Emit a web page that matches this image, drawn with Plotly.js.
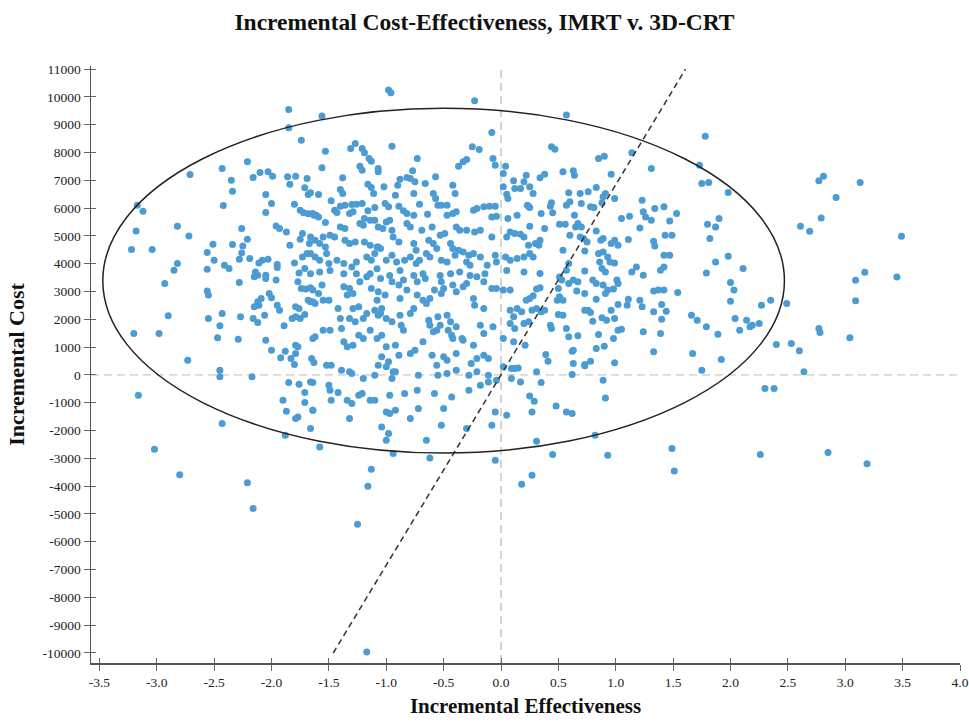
<!DOCTYPE html>
<html><head><meta charset="utf-8">
<script src="https://cdn.plot.ly/plotly-3.0.1.min.js"></script>
<style>html,body{margin:0;padding:0;background:#fff}#chart{width:969px;height:722px}</style>
</head><body><div id="chart"></div>
<script>
// Simulated (incremental effectiveness, incremental cost) pairs, grouped by region
const ptsUpperLeft = [[-1.85,9548],[-1.85,8888],[-1.74,8444],[-2.21,7664],[-2.43,7424],[-2.71,7208],[-2.16,7100],[-2.10,7280],[-2.03,7304],[-1.99,7148],[-1.86,7124],[-1.79,7148],[-1.69,7064],[-2.35,7004],[-2.34,6608],[-1.84,6860],[-1.71,6728],[-1.68,6488],[-2.05,6488],[-2.00,6164],[-2.05,5840],[-1.80,6140],[-2.42,6092],[-3.17,6104],[-3.12,5888],[-1.75,5924],[-1.72,5830],[-1.68,5800],[-1.63,5740],[-1.96,5360],[-1.93,5264],[-1.87,5144],[-2.26,5264],[-2.82,5348],[-3.18,5180],[-2.72,5000],[-2.21,4880],[-1.73,5084],[-1.75,4880],[-1.84,4664],[-1.67,4724],[-3.22,4508],[-3.04,4508],[-2.51,4700],[-2.34,4688],[-2.25,4640],[-2.26,4388],[-2.56,4400],[-2.50,4124],[-2.28,4160],[-2.19,4184],[-2.11,4028],[-2.08,4124],[-2.03,4160],[-1.95,3968],[-1.80,4028],[-1.73,4244],[-1.69,4364],[-2.82,4004],[-2.85,3764],[-2.56,3800],[-2.41,3944],[-2.37,3824],[-2.14,3704],[-2.12,3584],[-2.05,3584],[-1.95,3860],[-1.76,3668],[-1.71,3824]];
const ptsUpperMid = [[-0.98,10244],[-0.96,10148],[-0.23,9860],[-1.56,9308],[-0.08,8720],[-1.27,8324],[-1.31,8144],[-1.53,8048],[-1.21,8144],[-1.19,7988],[-0.95,8228],[-1.15,7784],[-1.13,7688],[-0.25,8204],[-0.19,8108],[-0.73,7784],[-0.07,7784],[-0.30,7748],[-0.33,7664],[-0.37,7508],[-0.05,7544],[-1.56,7448],[-1.23,7508],[-1.21,7364],[-1.07,7424],[-1.07,7304],[-0.77,7340],[0.04,7508],[0.02,7244],[-1.38,7088],[-0.88,7040],[-0.82,7100],[-0.79,7064],[-0.75,6944],[-0.57,7124],[-0.66,6884],[-1.16,6860],[-1.13,6740],[-1.11,6524],[-1.02,6764],[-0.90,6824],[-0.42,6824],[-0.40,6524],[-1.40,6668],[-1.38,6524],[-1.66,6548],[-1.59,6488],[-0.76,6524],[-0.59,6524],[-0.57,6344],[-0.92,6464],[-1.48,6260],[0.11,6980],[0.12,6704],[0.17,6704],[0.20,6944],[0.02,6764],[0.05,6500],[0.06,6344],[-0.55,6104],[-0.52,6104],[-0.47,6104],[-1.01,6164],[-0.98,6044],[-1.21,6164],[-1.26,6140],[-1.30,6128],[-1.36,6104],[-1.40,6068],[-1.10,6020],[-1.16,5900],[-0.89,6068],[-0.85,5900],[-0.71,6140],[-0.15,6044],[-0.10,6068],[-0.05,6068],[-0.24,5924],[-0.21,5984],[-0.39,5864],[-0.42,5804],[-0.47,5744],[-0.64,5780],[-0.82,5804],[-0.76,5744],[0.24,6068],[0.14,5744],[0.06,5624],[-1.64,5804],[-1.61,5744],[-1.59,5684],[-1.45,5924],[-1.43,5840],[-1.32,5804],[-1.29,5864],[-1.19,5624],[-1.14,5564],[-1.10,5564],[-1.00,5504],[-0.97,5564],[-1.53,5480],[-1.40,5324],[-1.36,5264],[-1.23,5444],[-1.20,5384],[-1.07,5324],[-1.03,5264],[-0.95,5204],[-0.82,5444],[-0.79,5324],[-0.69,5204],[-0.60,5324],[-0.53,5024],[-0.49,5084],[-0.39,5324],[-0.36,5204],[-0.30,5204],[-0.23,5144],[-0.18,5204],[-0.08,5684],[-0.04,5708],[-0.08,4964],[0.05,4964],[0.08,5144],[0.12,5084],[0.17,5060],[0.20,4964],[0.24,4664],[-1.66,4964],[-1.62,4844],[-1.58,4724],[-1.55,4964],[-1.53,4604],[-1.49,5024],[-1.45,4964],[-1.36,4844],[-1.32,4724],[-1.27,4784],[-1.19,4784],[-1.14,4664],[-1.08,4604],[-1.05,4544],[-0.94,4964],[-0.89,4784],[-0.76,4724],[-0.74,4484],[-0.63,4844],[-0.59,4724],[-0.56,4544],[-0.44,4724],[-0.42,4544],[-0.33,4424],[-0.28,4304],[-0.24,4364],[-0.05,4304],[-0.04,4064],[0.04,4244],[0.08,4124],[0.14,4184],[0.20,4244],[-1.66,4364],[-1.62,4244],[-1.58,4124],[-1.52,4364],[-1.50,4004],[-1.43,4124],[-1.37,4004],[-1.30,3884],[-1.26,4064],[-1.17,4244],[-1.13,4124],[-1.10,4364],[-1.07,4604],[-1.00,4124],[-0.95,4304],[-0.91,4064],[-0.84,4124],[-0.79,4244],[-0.74,4004],[-0.71,4124],[-0.65,4364],[-0.62,4244],[-0.52,4124],[-0.47,4064],[-0.40,4304],[-0.37,4484],[-0.30,4064],[-0.27,3944],[-0.18,4244],[-0.12,3944],[-1.66,3640],[-1.58,3700],[-1.49,3760],[-1.37,3640],[-1.26,3640],[-1.14,3640],[-1.08,3820],[-0.97,3580],[-0.88,3760],[-0.76,3580],[-0.68,3640],[-0.53,3580],[-0.44,3640],[-0.36,3700],[-0.27,3580],[-0.14,3640],[0.05,3760],[0.20,3700]];
const ptsUpperRight = [[0.57,9344],[1.78,8588],[0.44,8204],[0.47,8120],[1.14,7988],[0.85,7784],[0.90,7868],[1.31,7424],[1.73,7544],[1.75,6884],[1.81,6920],[1.98,6560],[0.54,7304],[0.63,7340],[0.64,7184],[0.38,7220],[0.34,7088],[0.22,7184],[0.96,7220],[0.25,6764],[0.28,6524],[0.83,6740],[0.59,6548],[0.69,6524],[0.76,6584],[0.91,6524],[0.89,6404],[0.99,6344],[1.23,6284],[0.23,6104],[0.25,6020],[0.44,6188],[0.43,6068],[0.60,6224],[0.57,6104],[0.70,6164],[0.78,6044],[0.81,6020],[0.88,6188],[1.24,5864],[1.26,5684],[1.34,5984],[1.42,6044],[1.53,5804],[1.12,5708],[1.05,5624],[1.31,5564],[1.47,5540],[1.21,5288],[1.80,5420],[1.87,5324],[1.90,5624],[0.35,5804],[0.45,5828],[0.64,5744],[0.25,5348],[0.38,5264],[0.51,5420],[0.56,5420],[0.65,5324],[0.67,5444],[0.70,5324],[0.60,5024],[0.69,4964],[0.72,4904],[0.83,5180],[0.75,4784],[0.30,4724],[0.34,4844],[0.33,4664],[0.54,4484],[0.73,4460],[0.87,4844],[0.89,4904],[0.96,4724],[0.99,4844],[1.02,4664],[1.11,4868],[1.33,4808],[1.34,4640],[1.43,5024],[1.49,5024],[1.42,4304],[1.47,4304],[1.82,4904],[1.98,4268],[1.87,4064],[1.79,3668],[0.85,4364],[0.89,4424],[0.93,4244],[0.95,4064],[0.99,4028],[0.86,4064],[0.88,3824],[0.91,3704],[0.25,4364],[0.28,4244],[0.59,4004],[0.57,3764],[0.73,3740],[1.14,3704],[1.18,3884],[1.24,3584],[1.39,3764],[1.42,3884],[0.34,3644],[0.51,3524]];
const ptsFarRight = [[2.81,7148],[2.77,6980],[3.13,6920],[2.92,6380],[2.79,5648],[2.61,5348],[2.69,5168],[3.49,4988],[2.11,3824],[3.17,3692],[3.45,3524],[3.09,3404],[3.09,2666],[2.49,2570],[2.35,2690],[2.27,2510],[2.14,1970],[2.19,1790],[2.17,1730],[2.25,1850],[2.08,1610],[2.77,1670],[2.78,1526],[3.04,1334],[2.40,1094],[2.53,1130],[2.60,866],[2.64,110],[2.30,-490],[2.38,-490],[2.26,-2866],[2.85,-2794],[3.19,-3190]];
const ptsLowerRight = [[2.00,3326],[2.03,3050],[2.00,2654],[2.04,2030],[1.92,554],[1.54,2966],[1.33,3014],[1.37,3050],[1.42,3050],[1.40,2534],[1.44,2294],[1.33,2270],[1.40,2006],[1.39,1490],[1.24,1550],[1.33,830],[1.66,2150],[1.71,1970],[1.79,1730],[1.89,1466],[1.67,770],[1.75,170],[1.11,2726],[1.10,2510],[1.21,2690],[1.23,2450],[1.02,2534],[0.96,2330],[0.99,2030],[1.02,1610],[1.05,1646],[0.98,1310],[0.90,1034],[0.83,950],[0.99,434],[0.85,1454],[0.78,494],[0.73,326],[0.89,-190],[0.91,-826],[0.82,-2170],[0.93,-2890],[1.49,-2650],[1.51,-3454],[0.31,-2386],[0.45,-2866],[0.27,-3610],[0.62,854],[0.63,410],[0.62,14],[0.67,1406],[0.59,1370],[0.57,1670],[0.39,734],[0.41,494],[0.31,110],[0.35,-274],[0.25,-754],[0.29,-946],[0.27,-1330],[0.48,-1114],[0.57,-1330],[0.62,-1390],[0.21,1070],[0.43,1790],[0.44,1670],[0.27,2330],[0.31,2390],[0.35,2270],[0.38,2330],[0.22,2690],[0.25,2750],[0.28,2846],[0.31,3086],[0.34,3134],[0.50,3110],[0.53,3410],[0.51,2810],[0.54,2690],[0.49,2690],[0.59,3290],[0.63,3410],[0.67,3350],[0.66,3014],[0.73,2930],[0.80,3410],[0.83,3290],[0.89,3230],[0.91,2930],[0.93,3050],[0.98,3086],[1.01,3410],[1.02,3290],[0.83,2726],[0.73,2330],[0.76,2330],[0.78,2246],[0.80,1934],[0.88,2054],[0.92,1970],[0.50,2174],[0.54,2150],[0.73,374],[0.63,890]];
const ptsLowerLeft = [[-2.93,3290],[-2.90,2126],[-3.20,1490],[-2.98,1490],[-2.73,530],[-2.45,170],[-2.45,-70],[-2.17,-70],[-3.16,-730],[-2.43,-1750],[-3.02,-2674],[-2.80,-3586],[-2.56,3014],[-2.55,2870],[-2.28,3326],[-2.55,2030],[-2.43,2210],[-2.45,1766],[-2.47,1334],[-2.29,1286],[-2.27,2090],[-2.16,2030],[-2.12,1886],[-2.06,2150],[-2.15,3530],[-2.05,3470],[-1.96,3410],[-2.12,2630],[-2.09,2750],[-2.11,2510],[-2.15,2450],[-2.02,2930],[-2.00,2774],[-1.95,2510],[-1.93,2330],[-2.05,1250],[-2.00,890],[-1.89,1766],[-1.92,614],[-1.83,590],[-1.80,374],[-1.88,854],[-1.79,770],[-1.79,1070],[-1.77,1010],[-1.82,2030],[-1.79,2090],[-1.75,2030],[-1.71,2174],[-1.79,2450],[-1.76,2390],[-1.77,3350],[-1.74,3110],[-1.70,3086],[-1.66,3134],[-1.68,2690],[-1.64,2630],[-1.64,1310],[-1.65,590],[-1.63,446],[-1.85,-274],[-1.76,-334],[-1.64,-274],[-1.71,-634],[-1.71,-994],[-1.90,-910],[-1.87,-1306],[-1.79,-1570],[-1.77,-1510],[-1.64,-1270],[-1.66,-1930],[-1.88,-2170]];
const ptsCentre = [[-1.64,3050],[-1.59,2930],[-1.55,2690],[-1.62,2570],[-1.37,3170],[-1.32,3110],[-1.29,2930],[-1.34,2870],[-1.13,3110],[-1.07,2990],[-1.01,2870],[-1.08,2690],[-1.04,2390],[-1.07,2150],[-0.95,3350],[-0.89,3230],[-0.85,3410],[-0.82,3050],[-0.88,2750],[-0.73,2870],[-0.68,2690],[-0.65,2570],[-0.62,2750],[-0.58,3050],[-0.52,2930],[-0.50,3110],[-0.42,3230],[-0.39,2990],[-0.33,3170],[-0.24,2750],[-0.23,2510],[-0.15,2390],[-0.08,3110],[-0.04,3110],[0.02,3050],[0.08,3050],[0.08,2330],[0.14,2390],[0.18,2270],[0.11,2090],[-1.66,2630],[-1.50,2690],[-1.42,2390],[-1.40,2030],[-1.39,1670],[-1.29,2390],[-1.24,2450],[-1.20,2030],[-1.17,2210],[-1.32,2030],[-1.27,1910],[-1.10,2330],[-1.05,2210],[-1.00,2030],[-0.95,1910],[-0.88,2150],[-0.87,1790],[-0.85,1610],[-0.79,2210],[-0.76,2390],[-0.63,1970],[-0.62,1790],[-0.59,1550],[-0.55,2090],[-0.53,1790],[-0.56,1610],[-0.47,2150],[-0.44,1910],[-0.46,1610],[-0.43,1430],[-0.39,1730],[-0.34,1310],[-0.24,1070],[-0.18,1790],[-0.15,1490],[-0.07,1730],[0.02,1310],[0.11,1190],[0.08,1850],[0.12,1670],[0.20,1850],[0.24,1910],[-1.62,1370],[-1.49,1610],[-1.55,1610],[-1.37,1190],[-1.34,1010],[-1.29,1070],[-1.24,1430],[-1.20,1310],[-1.14,1610],[-1.08,1310],[-1.04,1430],[-1.00,1010],[-0.92,1070],[-0.89,710],[-0.79,770],[-0.75,890],[-0.68,1190],[-0.60,710],[-0.56,350],[-0.50,650],[-0.47,530],[-0.42,1310],[-0.39,770],[-0.33,1250],[-0.26,410],[-0.21,590],[-0.15,710],[-0.11,590],[-1.52,350],[-1.48,350],[-1.39,170],[-1.32,110],[-1.30,50],[-1.07,350],[-1.04,650],[-0.98,470],[-1.00,290],[-0.92,110],[-1.66,-250],[-1.50,-370],[-1.49,-550],[-1.42,-630],[-1.48,-910],[-1.34,-910],[-1.30,-1030],[-1.24,-730],[-1.21,-670],[-1.14,-910],[-1.10,-910],[-1.20,-130],[-1.10,-10],[-0.95,-130],[-0.94,110],[-0.72,-10],[-0.55,-10],[-0.47,50],[-0.39,170],[-0.28,-10],[-0.21,110],[-0.11,-10],[-0.97,-730],[-0.84,-670],[-0.73,-550],[-0.58,-670],[-0.43,-790],[-0.28,-550],[-0.18,-370],[-0.11,-250],[-1.64,-1270],[-1.32,-1570],[-1.04,-1870],[-1.00,-1330],[-0.97,-1390],[-0.92,-1270],[-0.79,-1570],[-0.72,-1210],[-0.52,-1810],[-0.50,-1210],[-0.30,-1930],[-0.08,-1810],[-0.05,-1330],[0.05,-1450],[-0.98,-2110],[-1.00,-2350],[-1.58,-2590],[-0.65,-2350],[-0.94,-2830],[-0.62,-2990],[-0.05,-3070],[-1.13,-3390],[0.09,230],[0.12,230],[0.15,250],[0.17,-250],[0.09,-130],[0.02,290],[-0.04,-190],[-1.56,3230],[-1.23,3350],[-1.17,3530],[-1.05,3470],[-0.73,3350],[-0.66,3470],[-0.52,3350],[-0.30,3290],[-0.21,3530],[-0.15,3350]];
const ptsBottom = [[-2.21,-3880],[-2.16,-4804],[-1.16,-4000],[-1.25,-5368],[-1.17,-9964],[0.18,-3928]];

// Axis ticks
const xTickVals = [-3.5,-3.0,-2.5,-2.0,-1.5,-1.0,-0.5,0.0,0.5,1.0,1.5,2.0,2.5,3.0,3.5,4.0];
const xTickText = ['-3.5','-3.0','-2.5','-2.0','-1.5','-1.0','-0.5','0.0','0.5','1.0','1.5','2.0','2.5','3.0','3.5','4.0'];
const yTickVals = [-10000,-9000,-8000,-7000,-6000,-5000,-4000,-3000,-2000,-1000,0,1000,2000,3000,4000,5000,6000,7000,8000,9000,10000,11000];
const yTickText = ['-10000','-9000','-8000','-7000','-6000','-5000','-4000','-3000','-2000','-1000','0','1000','2000','3000','4000','5000','6000','7000','8000','9000','10000','11000'];

// Reference overlays: willingness-to-pay line slope and confidence ellipse
const wtpSlope = 6840;
const ellipseCentre = [-0.5, 3390];
const ellipseHalfAxes = [2.97, 6200];

const allPts = [].concat(ptsUpperLeft, ptsUpperMid, ptsUpperRight, ptsFarRight, ptsLowerRight, ptsLowerLeft, ptsCentre, ptsBottom);
const xs = allPts.map(p => p[0]);
const ys = allPts.map(p => p[1]);

const serif = "'Liberation Serif', 'Times New Roman', serif";
const xRange = [-3.573, 4.0];
const yRange = [-10360, 11110];
const lineY = [yTickVals[0], yTickVals[yTickVals.length - 1]];

const traces = [
  {type: 'scatter', mode: 'markers', x: xs, y: ys, hoverinfo: 'skip', showlegend: false,
   marker: {color: '#4b9cd3', size: 7, line: {width: 0}}},
  {type: 'scatter', mode: 'lines', x: lineY.map(v => v / wtpSlope), y: lineY, showlegend: false, hoverinfo: 'skip',
   line: {color: '#333', width: 1.5, dash: '6px,4px'}},
  {type: 'scatter', x: [null], y: [null], xaxis: 'x2', yaxis: 'y2', showlegend: false, hoverinfo: 'skip'}
];

const axisCommon = {showgrid: false, zeroline: false, showline: true, linecolor: '#555', linewidth: 1.5,
  ticks: 'outside', ticklen: 6, tickcolor: '#666', tickwidth: 1, tickfont: {family: serif, size: 13.5, color: '#222'}};

const layout = {
  width: 969, height: 722,
  margin: {l: 91, r: 9, t: 66, b: 59},
  paper_bgcolor: '#fff', plot_bgcolor: '#fff',
  title: {text: '<b>Incremental Cost-Effectiveness, IMRT v. 3D-CRT</b>', font: {family: serif, size: 23.5, color: '#111'},
    x: 0.5, xref: 'container', xanchor: 'center', y: 1 - 22/722, yref: 'container', yanchor: 'middle'},
  xaxis: Object.assign({}, axisCommon, {range: xRange, tickvals: xTickVals, ticktext: xTickText,
    title: {text: '<b>Incremental Effectiveness</b>', font: {family: serif, size: 21, color: '#111'}, standoff: 9}}),
  yaxis: Object.assign({}, axisCommon, {range: yRange, tickvals: yTickVals, ticktext: yTickText,
    title: {text: '<b>Incremental Cost</b>', font: {family: serif, size: 22, color: '#111'}, standoff: 12}}),
  xaxis2: {overlaying: 'x', anchor: 'y2', range: xRange, tickvals: xTickVals, ticks: 'inside', ticklen: 5, tickcolor: '#666',
    showticklabels: false, showline: false, showgrid: false, zeroline: false},
  yaxis2: {overlaying: 'y', anchor: 'x2', range: yRange, tickvals: yTickVals, ticks: 'inside', ticklen: 5, tickcolor: '#666',
    showticklabels: false, showline: false, showgrid: false, zeroline: false},
  shapes: [
    {type: 'line', xref: 'x', yref: 'paper', x0: 0, x1: 0, y0: 0, y1: 1, layer: 'below',
     line: {color: '#aaa', width: 1, dash: '8px,5px'}},
    {type: 'line', xref: 'paper', yref: 'y', x0: 0, x1: 1, y0: 0, y1: 0, layer: 'below',
     line: {color: '#bbb', width: 1, dash: '8px,5px'}},
    {type: 'circle', xref: 'x', yref: 'y', layer: 'above',
     x0: ellipseCentre[0] - ellipseHalfAxes[0], x1: ellipseCentre[0] + ellipseHalfAxes[0],
     y0: ellipseCentre[1] - ellipseHalfAxes[1], y1: ellipseCentre[1] + ellipseHalfAxes[1],
     line: {color: '#222', width: 1.5}}
  ]
};

Plotly.newPlot('chart', traces, layout, {displayModeBar: false, staticPlot: true});
</script>
</body></html>
